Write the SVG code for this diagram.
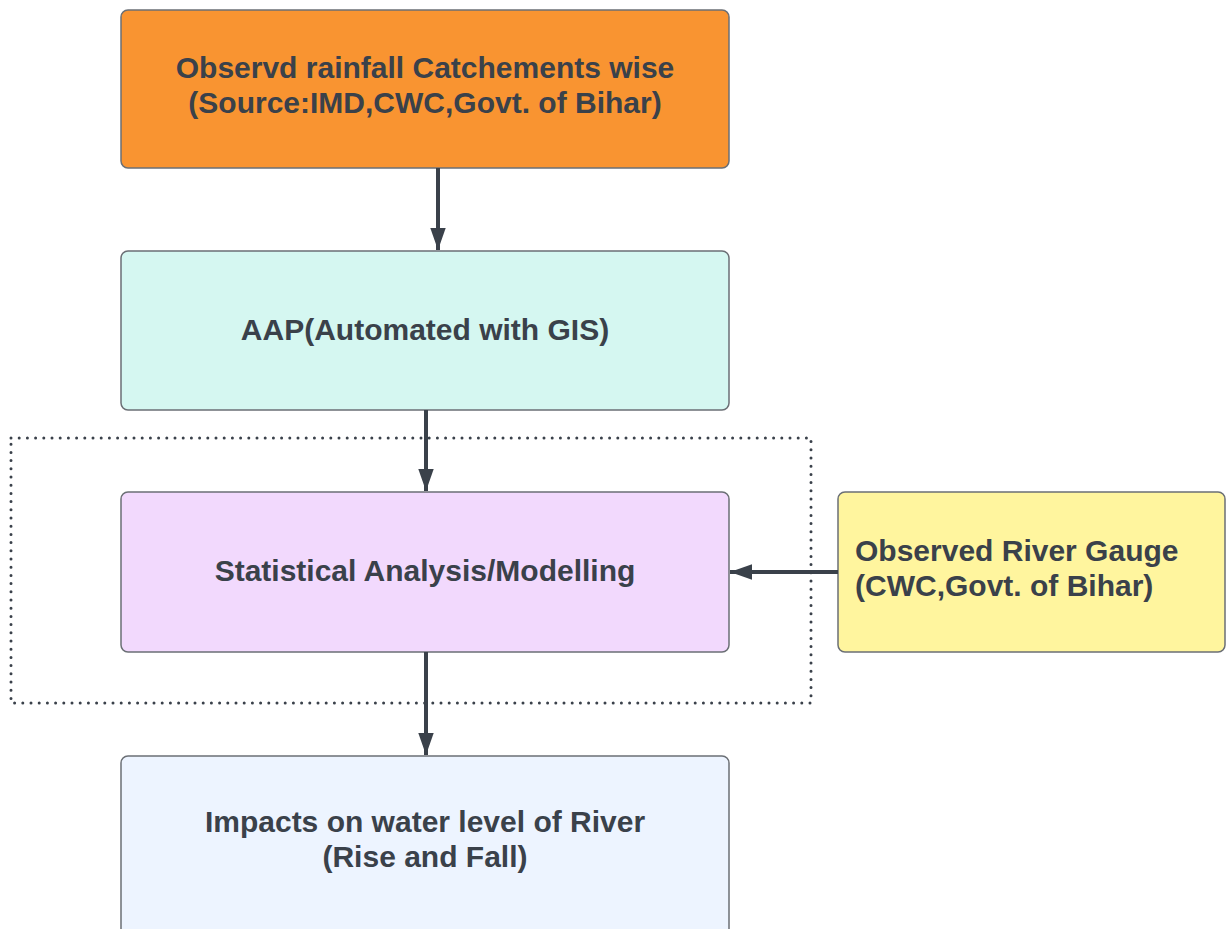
<svg xmlns="http://www.w3.org/2000/svg" width="1227" height="929" viewBox="0 0 1227 929">
<defs>
<style>
.box{stroke:#6b6f75;stroke-width:1.5}
.t{font-family:"Liberation Sans",Arial,sans-serif;font-weight:bold;font-size:30px;fill:#3a414a}
.c{text-anchor:middle}
.conn{stroke:#3a414a;stroke-width:4;fill:none}
</style>
<marker id="ah" viewBox="0 0 10 7" refX="10" refY="3.5" markerWidth="5.5" markerHeight="3.85" markerUnits="strokeWidth" orient="auto">
<path d="M0,0 L10,3.5 L0,7 z" fill="#3a414a"/>
</marker>
</defs>
<rect width="1227" height="929" fill="#ffffff"/>
<g id="group-frame">
<rect x="11" y="438" width="800" height="265" fill="none" stroke="#3a414a" stroke-width="3" stroke-dasharray="0 8.2" stroke-linecap="round"/>
</g>
<g id="node-rainfall">
<rect class="box" x="121" y="10" width="608" height="158" rx="7" fill="#f99431"/>
<text class="t c" x="425" y="78">Observd rainfall Catchements wise</text>
<text class="t c" x="425" y="113">(Source:IMD,CWC,Govt. of Bihar)</text>
</g>
<g id="node-aap">
<rect class="box" x="121" y="251" width="608" height="159" rx="7" fill="#d5f7f1"/>
<text class="t c" x="425" y="340">AAP(Automated with GIS)</text>
</g>
<g id="node-stat">
<rect class="box" x="121" y="492" width="608" height="160" rx="7" fill="#f2d9fd"/>
<text class="t c" x="425" y="581">Statistical Analysis/Modelling</text>
</g>
<g id="node-gauge">
<rect class="box" x="838" y="492" width="387" height="160" rx="7" fill="#fff59e"/>
<text class="t" x="855" y="561">Observed River Gauge</text>
<text class="t" x="855" y="596">(CWC,Govt. of Bihar)</text>
</g>
<g id="node-impacts">
<rect class="box" x="121" y="756" width="608" height="190" rx="7" fill="#edf4ff"/>
<text class="t c" x="425" y="832">Impacts on water level of River</text>
<text class="t c" x="425" y="867">(Rise and Fall)</text>
</g>
<g id="connectors">
<line class="conn" x1="438" y1="168" x2="438" y2="250" marker-end="url(#ah)"/>
<line class="conn" x1="426" y1="410" x2="426" y2="491" marker-end="url(#ah)"/>
<line class="conn" x1="426" y1="652" x2="426" y2="755" marker-end="url(#ah)"/>
<line class="conn" x1="838" y1="572" x2="730" y2="572" marker-end="url(#ah)"/>
</g>
</svg>
